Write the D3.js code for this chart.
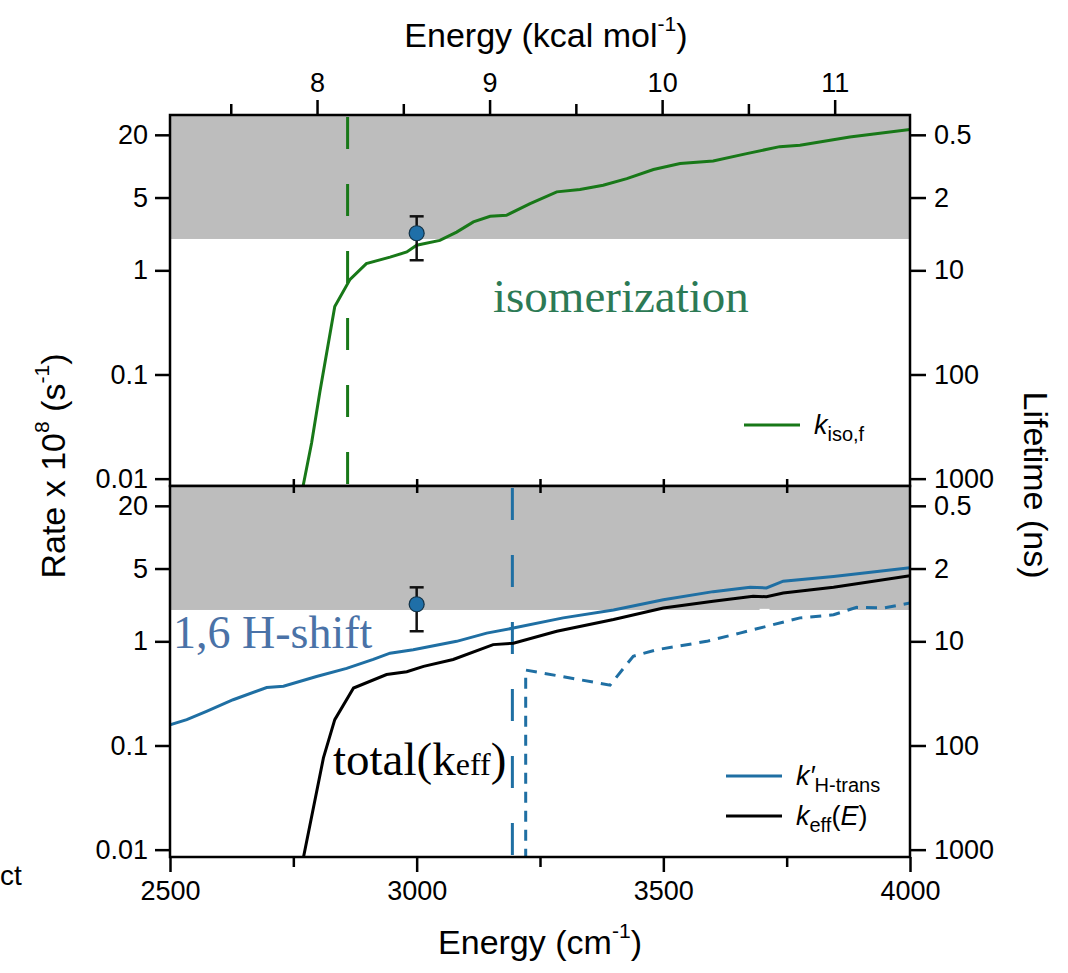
<!DOCTYPE html>
<html>
<head>
<meta charset="utf-8">
<script src="https://cdn.jsdelivr.net/npm/d3@7"></script>
<style>
  body { margin: 0; background: #fff; }
  svg { display: block; font-family: "Liberation Sans", Arial, sans-serif; }
</style>
</head>
<body>
<div id="chart-area"></div>
<script>
// ---- DATA ----
var CM_PER_KCAL = 349.755;

var energyTicks = [2500, 3000, 3500, 4000];
var energyMinor = [2750, 3250, 3750];
var midTicks = [2750, 3000, 3250, 3500, 3750];
var kcalTicks = [8, 9, 10, 11];
var kcalMinor = [7.5, 8.5, 9.5, 10.5];
var rateTicks = [0.01, 0.1, 1, 5, 20];
var lifeTicks = [0.5, 2, 10, 100, 1000];

// k_iso,f (top panel)
var isoEnergy = [2770, 2787, 2804, 2834, 2865, 2898, 2946, 2980, 3000, 3047, 3081, 3115, 3149, 3182,
                 3230, 3284, 3331, 3378, 3426, 3480, 3534, 3601, 3669, 3736, 3777, 3878, 4000];
var isoRate = [0.0086, 0.022, 0.069, 0.45, 0.82, 1.16, 1.34, 1.5, 1.74, 1.94, 2.33, 2.92, 3.3, 3.38,
               4.37, 5.67, 5.97, 6.56, 7.6, 9.3, 10.6, 11.2, 13.2, 15.4, 15.9, 19.1, 22.5];

// k'_H-trans (bottom panel, solid blue)
var hEnergy = [2500, 2534, 2574, 2628, 2696, 2730, 2797, 2858, 2912, 2946, 2993, 3081, 3142, 3196,
               3297, 3399, 3500, 3601, 3676, 3709, 3743, 3845, 4000];
var hRate = [0.158, 0.177, 0.213, 0.275, 0.36, 0.37, 0.46, 0.55, 0.67, 0.77, 0.83, 1.0, 1.2, 1.34,
             1.68, 2.0, 2.51, 3.0, 3.3, 3.26, 3.78, 4.2, 5.1];

// dashed blue channel (bottom panel)
var hdEnergy = [3221, 3221, 3392, 3439, 3486, 3588, 3655, 3777, 3845, 3892, 3946, 4000];
var hdRate = [0.008, 0.53, 0.38, 0.72, 0.83, 1.0, 1.2, 1.68, 1.8, 2.12, 2.09, 2.33];

// k_eff(E) (bottom panel, black)
var effEnergy = [2770, 2811, 2834, 2872, 2939, 2980, 3014, 3074, 3155, 3196, 3284, 3399, 3500, 3601,
                 3682, 3709, 3743, 3845, 4000];
var effRate = [0.0082, 0.076, 0.177, 0.356, 0.48, 0.51, 0.575, 0.67, 0.93, 0.96, 1.25, 1.62, 2.09, 2.43,
               2.71, 2.68, 2.91, 3.3, 4.27];

// measured rate with error bar
var expEnergy = [3000];
var expRate = [2.27];
var expLow = [1.25];
var expHigh = [3.3];

var isoThreshold = 2860;
var hThreshold = 3194;
var bandRate = 2;   // grey: lifetime < 5 ns

// ---- LAYOUT ----
var width = 1068, height = 973;
var left = 170, plotW = 740, panelH = 371;
var panelTops = [115, 486];

var green = "#187818", blue = "#1f6fa3", grey = "#bdbdbd";
var tickFont = "27px", titleFont = "34px";

var svg = d3.select("#chart-area")
    .append("svg")
    .attr("width", width)
    .attr("height", height);

// SCALES
var x = d3.scaleLinear().domain([2500, 4000]).range([0, plotW]);
var xKcal = d3.scaleLinear().domain([2500 / CM_PER_KCAL, 4000 / CM_PER_KCAL]).range([0, plotW]);
var y = d3.scaleLog().domain([0.0085, 31]).range([panelH, 0]);
var yLife = d3.scaleLog().domain([10 / 0.0085, 10 / 31]).range([panelH, 0]);

var line = d3.line().x(d => x(d[0])).y(d => y(d[1]));

function styleAxis(sel, size) {
    sel.select(".domain").remove();
    sel.selectAll("line").attr("stroke", "#000").attr("stroke-width", 2.5);
    sel.selectAll("text").attr("fill", "#000").attr("font-size", size || tickFont)
        .attr("font-family", "'Liberation Sans', Arial, sans-serif");
}

function makePanel(i) {
    var g = svg.append("g").attr("transform", "translate(" + left + "," + panelTops[i] + ")");
    svg.append("clipPath").attr("id", "clip" + i)
        .append("rect").attr("width", plotW).attr("height", panelH);
    var inner = g.append("g").attr("clip-path", "url(#clip" + i + ")");
    inner.append("rect")
        .attr("x", 0).attr("y", 0)
        .attr("width", plotW).attr("height", y(bandRate))
        .attr("fill", grey);

    g.append("g").call(d3.axisLeft(y).tickValues(rateTicks).tickSize(15).tickPadding(7)
        .tickFormat(d => String(d))).call(styleAxis);
    g.append("g").attr("transform", "translate(" + plotW + ",0)")
        .call(d3.axisRight(yLife).tickValues(lifeTicks).tickSize(16).tickPadding(8)
        .tickFormat(d => String(d))).call(styleAxis);
    return { g: g, inner: inner };
}

var topP = makePanel(0);
var botP = makePanel(1);

// ---- TOP PANEL ----
topP.inner.append("line")
    .attr("x1", x(isoThreshold)).attr("x2", x(isoThreshold))
    .attr("y1", 2).attr("y2", panelH)
    .attr("stroke", green).attr("stroke-width", 3).attr("stroke-dasharray", "32,35");

topP.inner.append("path")
    .datum(d3.zip(isoEnergy, isoRate))
    .attr("d", line).attr("fill", "none")
    .attr("stroke", green).attr("stroke-width", 3);

// ---- BOTTOM PANEL ----
botP.inner.append("line")
    .attr("x1", x(hThreshold)).attr("x2", x(hThreshold))
    .attr("y1", 2).attr("y2", panelH)
    .attr("stroke", blue).attr("stroke-width", 3).attr("stroke-dasharray", "32,35");

botP.inner.append("path")
    .datum(d3.zip(hdEnergy, hdRate))
    .attr("d", line).attr("fill", "none")
    .attr("stroke", blue).attr("stroke-width", 3).attr("stroke-dasharray", "11,8");

// small white patch over the band edge
botP.inner.append("rect")
    .attr("x", x(3695)).attr("y", y(2.05)).attr("width", 10).attr("height", 8).attr("fill", "#fff");

botP.inner.append("path")
    .datum(d3.zip(hEnergy, hRate))
    .attr("d", line).attr("fill", "none")
    .attr("stroke", blue).attr("stroke-width", 3);

botP.inner.append("path")
    .datum(d3.zip(effEnergy, effRate))
    .attr("d", line).attr("fill", "none")
    .attr("stroke", "#000").attr("stroke-width", 3);

// measured point in both panels
[topP, botP].forEach(function (p) {
    var pts = p.g.selectAll(".exp").data(d3.range(expEnergy.length)).enter().append("g").attr("class", "exp");
    pts.append("line")
        .attr("x1", i => x(expEnergy[i])).attr("x2", i => x(expEnergy[i]))
        .attr("y1", i => y(expLow[i])).attr("y2", i => y(expHigh[i]))
        .attr("stroke", "#111").attr("stroke-width", 2.5);
    [expLow, expHigh].forEach(function (arr) {
        pts.append("line")
            .attr("x1", i => x(expEnergy[i]) - 7).attr("x2", i => x(expEnergy[i]) + 7)
            .attr("y1", i => y(arr[i])).attr("y2", i => y(arr[i]))
            .attr("stroke", "#111").attr("stroke-width", 2.5);
    });
    pts.append("circle")
        .attr("cx", i => x(expEnergy[i])).attr("cy", i => y(expRate[i]))
        .attr("r", 7.5).attr("fill", "#1f6fa8").attr("stroke", "#123247").attr("stroke-width", 1.2);
});

// ---- AXES: top (kcal), middle, bottom (cm-1) ----
topP.g.append("g").call(d3.axisTop(xKcal).tickValues(kcalTicks).tickSize(15).tickPadding(8)
    .tickFormat(d3.format("d"))).call(styleAxis);
topP.g.append("g").call(d3.axisTop(xKcal).tickValues(kcalMinor).tickSize(11).tickFormat("")).call(styleAxis);

topP.g.append("g").attr("transform", "translate(0," + panelH + ")")
    .call(d3.axisBottom(x).tickValues(midTicks).tickSize(-7).tickFormat("")).call(styleAxis);
botP.g.append("g")
    .call(d3.axisTop(x).tickValues(midTicks).tickSize(-7).tickFormat("")).call(styleAxis);

botP.g.append("g").attr("transform", "translate(0," + panelH + ")")
    .call(d3.axisBottom(x).tickValues(energyTicks).tickSize(15).tickPadding(9)
    .tickFormat(d3.format("d"))).call(styleAxis);
botP.g.append("g").attr("transform", "translate(0," + panelH + ")")
    .call(d3.axisBottom(x).tickValues(energyMinor).tickSize(10).tickFormat("")).call(styleAxis);

// frames
[topP, botP].forEach(function (p) {
    p.g.append("rect")
        .attr("width", plotW).attr("height", panelH)
        .attr("fill", "none").attr("stroke", "#000").attr("stroke-width", 2.5);
});

// ---- TEXT ----
function supText(sel, parts) {
    parts.forEach(function (p) {
        var t = sel.append("tspan").text(p.t);
        if (p.sup) t.attr("font-size", "0.62em").attr("dy", "-0.75em");
        if (p.back) t.attr("dy", "0.47em");
    });
}

var topTitle = svg.append("text")
    .attr("x", 546).attr("y", 47).attr("text-anchor", "middle").attr("font-size", titleFont);
supText(topTitle, [{ t: "Energy (kcal mol" }, { t: "-1", sup: true }, { t: ")", back: true }]);

var botTitle = svg.append("text")
    .attr("x", 540).attr("y", 954).attr("text-anchor", "middle").attr("font-size", titleFont);
supText(botTitle, [{ t: "Energy (cm" }, { t: "-1", sup: true }, { t: ")", back: true }]);

var leftTitle = svg.append("text")
    .attr("transform", "translate(65,466) rotate(-90)")
    .attr("text-anchor", "middle").attr("font-size", titleFont);
supText(leftTitle, [{ t: "Rate x 10" }, { t: "8", sup: true }, { t: " (s", back: true }, { t: "-1", sup: true }, { t: ")", back: true }]);

svg.append("text")
    .attr("transform", "translate(1024,485) rotate(90)")
    .attr("text-anchor", "middle").attr("font-size", titleFont)
    .text("Lifetime (ns)");

// cropped text at left edge
svg.append("text").attr("x", 0).attr("y", 885)
    .attr("font-size", "28px").text("ct");

// annotations (serif)
var serif = "'Liberation Serif', 'Times New Roman', serif";
topP.g.append("text")
    .attr("x", 323).attr("y", 197)
    .attr("font-family", serif).attr("font-size", "47px").attr("fill", "#2c7a55")
    .text("isomerization");

botP.g.append("text")
    .attr("x", 3).attr("y", 162)
    .attr("font-family", serif).attr("font-size", "46px").attr("fill", "#4a72a7")
    .text("1,6 H-shift");

var tot = botP.g.append("text")
    .attr("x", 163).attr("y", 289)
    .attr("font-family", serif).attr("font-size", "47px").attr("fill", "#000");
tot.append("tspan").text("total(k");
tot.append("tspan").attr("font-size", "32px").text("eff");
tot.append("tspan").text(")");

// ---- LEGENDS ----
function legendItem(g, lx, ly, color, main, sub, tail) {
    g.append("line").attr("x1", lx).attr("x2", lx + 56).attr("y1", ly).attr("y2", ly)
        .attr("stroke", color).attr("stroke-width", 3);
    var t = g.append("text").attr("x", lx + 70).attr("y", ly + 9).attr("font-size", "27px");
    t.append("tspan").attr("font-style", "italic").text(main);
    t.append("tspan").attr("font-size", "20px").attr("dy", "7").text(sub);
    if (tail) {
        t.append("tspan").attr("dy", "-7").text("(");
        t.append("tspan").attr("font-style", "italic").text("E");
        t.append("tspan").text(")");
    }
}
legendItem(topP.g, 574, 310, green, "k", "iso,f");
legendItem(botP.g, 556, 290, blue, "k\u2032", "H-trans");
legendItem(botP.g, 556, 330, "#000", "k", "eff", true);
</script>
</body>
</html>
